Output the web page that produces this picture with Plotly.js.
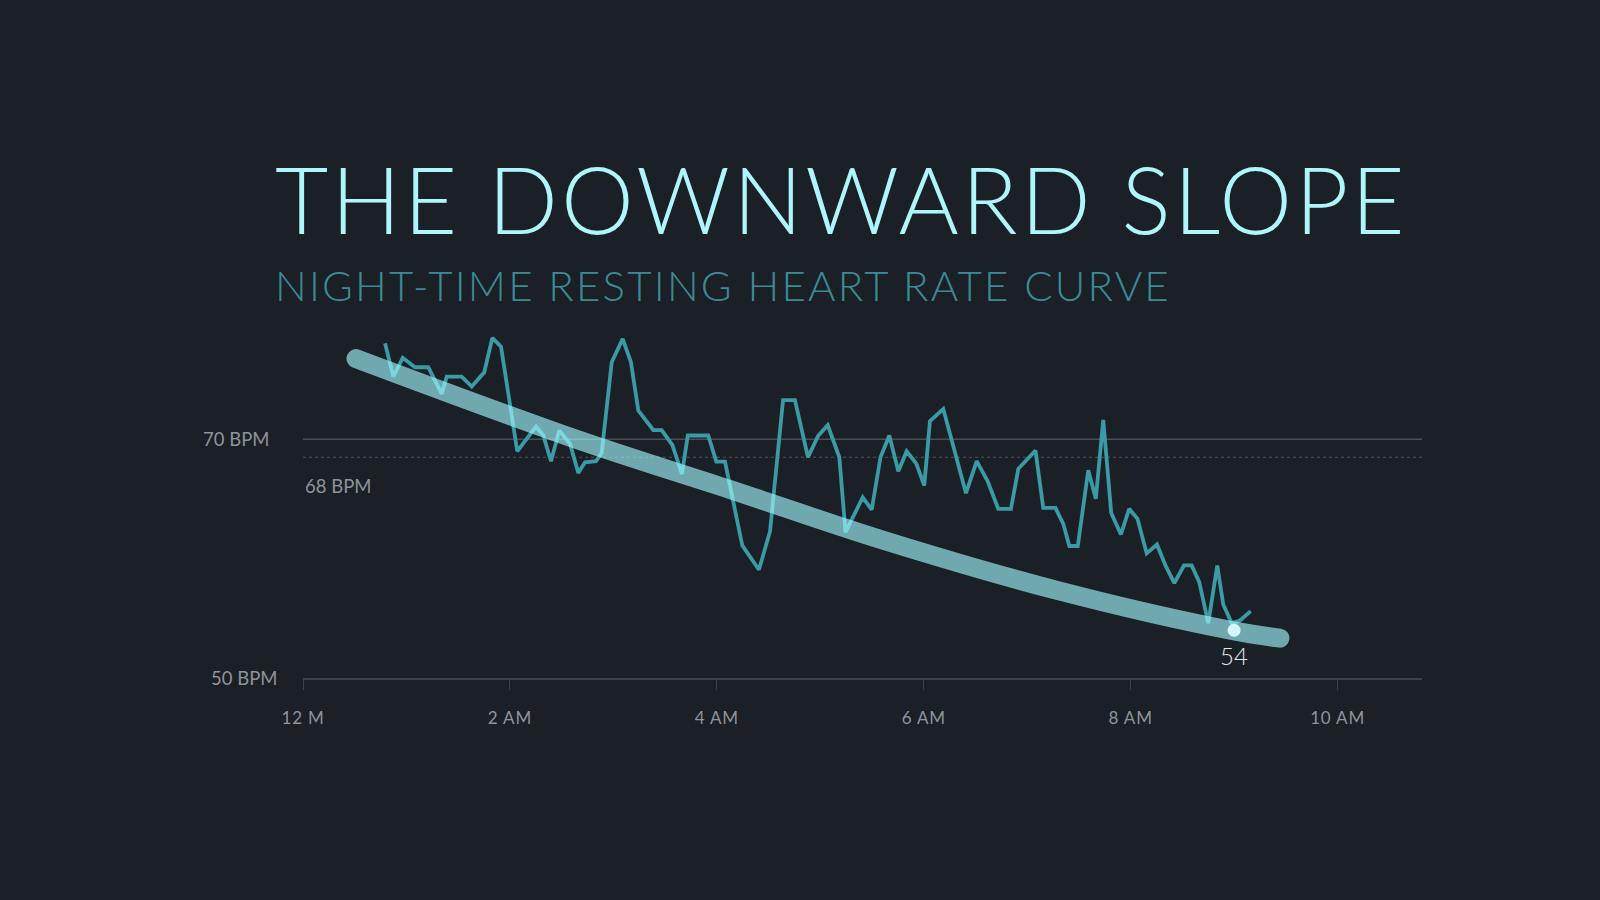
<!DOCTYPE html>
<html>
<head>
<meta charset="utf-8">
<script src="https://cdn.plot.ly/plotly-3.0.1.min.js"></script>
<style>
  html, body { margin: 0; padding: 0; background: #1B1F26; }
  #chart { width: 1600px; height: 900px; }
  .annotation-text.title-txt { letter-spacing: 3px; }
  .annotation-text.sub-txt { letter-spacing: 2.2px; }
  .annotation-text.lbl-txt { letter-spacing: 0.6px; }
  .xtick text { letter-spacing: 0.8px; }
  .scatterlayer .trace:nth-of-type(2) path.js-line { stroke-linecap: round; stroke-linejoin: round; }
</style>
</head>
<body>
<div id="chart"></div>
<script>
// Heart-rate readings (hours after midnight, BPM)
const hrHours = [0.793,0.873,0.964,1.083,1.211,1.341,1.389,1.534,1.631,1.752,1.830,1.914,2.071,2.252,2.323,2.397,2.477,2.581,2.661,2.726,2.832,2.887,2.984,3.090,3.170,3.241,3.386,3.467,3.571,3.663,3.719,3.917,3.995,4.079,4.246,4.407,4.514,4.640,4.755,4.881,4.978,5.072,5.184,5.244,5.410,5.497,5.582,5.667,5.754,5.835,5.928,6.005,6.060,6.189,6.408,6.512,6.619,6.720,6.843,6.914,7.080,7.155,7.273,7.349,7.407,7.489,7.590,7.663,7.735,7.812,7.906,7.986,8.066,8.155,8.254,8.341,8.422,8.515,8.590,8.663,8.750,8.837,8.895,8.976,9.057,9.160];
const hrBpm = [78.05,75.26,76.83,76.04,76.04,73.81,75.26,75.26,74.42,75.62,78.50,77.77,69.00,71.07,70.32,68.17,70.74,69.62,67.19,68.08,68.17,68.85,76.46,78.42,76.46,72.41,70.78,70.78,69.52,67.09,70.32,70.32,68.14,68.14,61.11,59.07,62.28,73.29,73.29,68.50,70.28,71.19,68.50,62.22,65.13,64.10,68.50,70.32,67.33,69.00,67.97,66.13,71.52,72.55,65.49,68.17,66.47,64.18,64.18,67.53,69.06,64.26,64.26,62.92,61.06,61.06,67.41,65.02,71.63,63.83,62.03,64.18,63.34,60.44,61.19,59.35,57.95,59.43,59.43,58.03,54.60,59.43,56.16,54.60,54.82,55.60];

// Smoothed trend curve
const trendHours = [0.512, 2.677, 4.127, 5.577, 7.317, 8.989, 9.443];
const trendBpm = [76.77, 69.90, 65.80, 61.63, 57.28, 53.96, 53.34];

// Highlighted final resting value
const restHour = [9.0];
const restBpm = [54];
const restLabel = "54";

// Axis ticks
const tickHours = [0, 2, 4, 6, 8, 10];
const tickLabels = ["12 M", "2 AM", "4 AM", "6 AM", "8 AM", "10 AM"];

// Reference levels
const refLevels = [70, 68.5];
const refLabels = ["70 BPM", "68 BPM", "50 BPM"];

const titleText = "THE DOWNWARD SLOPE";
const subtitleText = "NIGHT-TIME RESTING HEART RATE CURVE";

const FONT = "Lato, 'Open Sans', 'DejaVu Sans', sans-serif";
const GRAY = "#8E949B";

const traces = [
  {
    x: hrHours, y: hrBpm, type: "scatter", mode: "lines",
    line: { color: "#3A9AA6", width: 3.8 },
    hoverinfo: "skip", showlegend: false
  },
  {
    x: trendHours, y: trendBpm, type: "scatter", mode: "lines",
    line: { color: "rgba(160,250,255,0.63)", width: 19, shape: "spline", smoothing: 1 },
    hoverinfo: "skip", showlegend: false
  },
  {
    x: restHour, y: restBpm, type: "scatter", mode: "markers",
    marker: { color: "#D5F7FB", size: 13 },
    hoverinfo: "skip", showlegend: false
  }
];

const layout = {
  width: 1600, height: 900,
  paper_bgcolor: "#1B1F26", plot_bgcolor: "#1B1F26",
  margin: { l: 303, r: 178, t: 320, b: 222, pad: 0 },
  showlegend: false,
  font: { family: FONT, color: GRAY },
  xaxis: {
    range: [0, 10.816], fixedrange: true,
    showgrid: false, zeroline: false,
    showline: true, linecolor: "#3C4149", linewidth: 2,
    ticks: "outside", ticklen: 10, tickwidth: 1, tickcolor: "#3C4149",
    tickvals: tickHours, ticktext: tickLabels,
    tickfont: { family: FONT, size: 17, color: GRAY },
    ticklabelstandoff: 14
  },
  yaxis: {
    range: [50, 80], fixedrange: true,
    showgrid: false, zeroline: false, showline: false,
    showticklabels: false, ticks: ""
  },
  shapes: [
    { type: "line", xref: "paper", x0: 0, x1: 1, yref: "y", y0: refLevels[0], y1: refLevels[0],
      line: { color: "#4A4F57", width: 1.5 }, layer: "below" },
    { type: "line", xref: "paper", x0: 0, x1: 1, yref: "y", y0: refLevels[1], y1: refLevels[1],
      line: { color: "#4F545C", width: 1.2, dash: "dot" }, layer: "below" }
  ],
  annotations: [
    { text: titleText, xref: "paper", yref: "paper", x: -0.0255, y: 1.339,
      xanchor: "left", yanchor: "middle", align: "left", showarrow: false,
      font: { family: FONT, size: 92, color: "#AEF6FC", weight: 300 },
      borderpad: 0 },
    { text: subtitleText, xref: "paper", yref: "paper", x: -0.0255, y: 1.0986,
      xanchor: "left", yanchor: "middle", align: "left", showarrow: false,
      font: { family: FONT, size: 42, color: "#3A8B96", weight: 300 },
      borderpad: 0 },
    { text: refLabels[0], xref: "paper", yref: "y", x: -0.029, y: 70,
      xanchor: "right", yanchor: "middle", showarrow: false,
      font: { family: FONT, size: 18.5, color: GRAY } },
    { text: refLabels[1], xref: "paper", yref: "y", x: 0.0, y: 66.1,
      xanchor: "left", yanchor: "middle", align: "left", showarrow: false,
      font: { family: FONT, size: 18.5, color: GRAY } },
    { text: refLabels[2], xref: "paper", yref: "y", x: -0.0215, y: 50,
      xanchor: "right", yanchor: "middle", showarrow: false,
      font: { family: FONT, size: 18.5, color: GRAY } },
    { text: restLabel, xref: "x", yref: "y", x: restHour[0], y: restBpm[0],
      xanchor: "center", yanchor: "middle", yshift: -25, showarrow: false,
      font: { family: FONT, size: 24, color: "#E6E9EB", weight: 300 } }
  ]
};

Plotly.newPlot("chart", traces, layout, { staticPlot: true, displayModeBar: false }).then(function () {
  const anns = document.querySelectorAll(".annotation-text");
  if (anns.length > 1) {
    anns[0].classList.add("title-txt");
    anns[1].classList.add("sub-txt");
  }
});
</script>
</body>
</html>
